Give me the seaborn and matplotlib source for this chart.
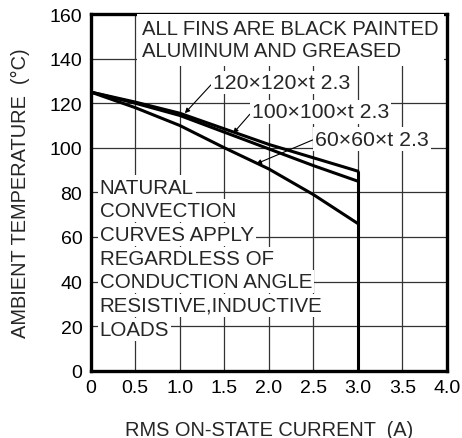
import pandas as pd
import seaborn as sns
import numpy as np
import matplotlib.pyplot as plt

# derating curves
current = [0.0, 0.5, 1.0, 1.5, 2.0, 2.5, 3.0]
temp_120 = [125, 120.5, 115.5, 108.5, 101.5, 95.5, 89.5]
temp_100 = [125, 120, 114.5, 107, 99.5, 92, 85]
temp_60 = [125, 118, 110, 100, 90.5, 79, 66]
fin_labels = ['120×120×t 2.3', '100×100×t 2.3', '60×60×t 2.3']
max_current = 3.0

x_ticks = [0, 0.5, 1.0, 1.5, 2.0, 2.5, 3.0, 3.5, 4.0]
x_tick_labels = ['0', '0.5', '1.0', '1.5', '2.0', '2.5', '3.0', '3.5', '4.0']
y_ticks = [0, 20, 40, 60, 80, 100, 120, 140, 160]

note_lines = ['NATURAL', 'CONVECTION', 'CURVES APPLY', 'REGARDLESS OF',
              'CONDUCTION ANGLE', 'RESISTIVE,INDUCTIVE', 'LOADS']

df = pd.DataFrame({
    'current': current * 3,
    'temp': temp_120 + temp_100 + temp_60,
    'fin': [fin_labels[0]] * 7 + [fin_labels[1]] * 7 + [fin_labels[2]] * 7,
})

sns.set_style('white')
plt.rcParams['font.family'] = ['Liberation Sans', 'DejaVu Sans']

fig = plt.figure(figsize=(4.62, 4.39), dpi=100)
ax = fig.add_axes([0.1963, 0.1533, 0.7712, 0.8125])

sns.lineplot(data=df, x='current', y='temp', hue='fin', palette=['black'] * 3,
             legend=False, lw=2.2, ax=ax, zorder=3)
ax.vlines(max_current, 0, max(temp_120[-1], temp_100[-1], temp_60[-1]),
          color='black', lw=2.2, zorder=3)

ax.set_xlim(0, 4.0)
ax.set_ylim(0, 160)
ax.set_xticks(x_ticks)
ax.set_xticklabels(x_tick_labels)
ax.set_yticks(y_ticks)
ax.tick_params(length=0, labelsize=14, colors='black', pad=6)
ax.grid(True, color='#333333', lw=0.9)
ax.set_axisbelow(True)
for s in ax.spines.values():
    s.set_color('black')
    s.set_linewidth(2.4)

ax.set_xlabel('RMS ON-STATE CURRENT  (A)', fontsize=14.4, labelpad=17)
ax.set_ylabel('AMBIENT TEMPERATURE  (°C)', fontsize=14.4, labelpad=14)

box = dict(fc='white', ec='none', pad=1.5)
ax.text(0.58, 148.5, 'ALL FINS ARE BLACK PAINTED\nALUMINUM AND GREASED',
        fontsize=14.6, va='center', ha='left', linespacing=1.2,
        bbox=dict(fc='white', ec='none', pad=4), zorder=4)

for i, line in enumerate(note_lines):
    ax.text(0.1, 82.4 - i * 10.63, line, fontsize=14.8, va='center',
            ha='left', bbox=box, zorder=4)

label_pos = [(1.375, 129.3), (1.81, 116.1), (2.515, 103.9)]
arrow_end = [(1.057, 115.5), (1.6, 106.5), (1.86, 92.8)]
for lab, pos, end in zip(fin_labels, label_pos, arrow_end):
    ax.annotate(lab, xy=end, xytext=pos, fontsize=15.3, ha='left', va='center',
                bbox=box, zorder=4,
                arrowprops=dict(arrowstyle='-|>', lw=0.8, color='black',
                                mutation_scale=7, relpos=(0, 0.5),
                                shrinkA=0, shrinkB=0))

fig.savefig('out.png', dpi=100)
